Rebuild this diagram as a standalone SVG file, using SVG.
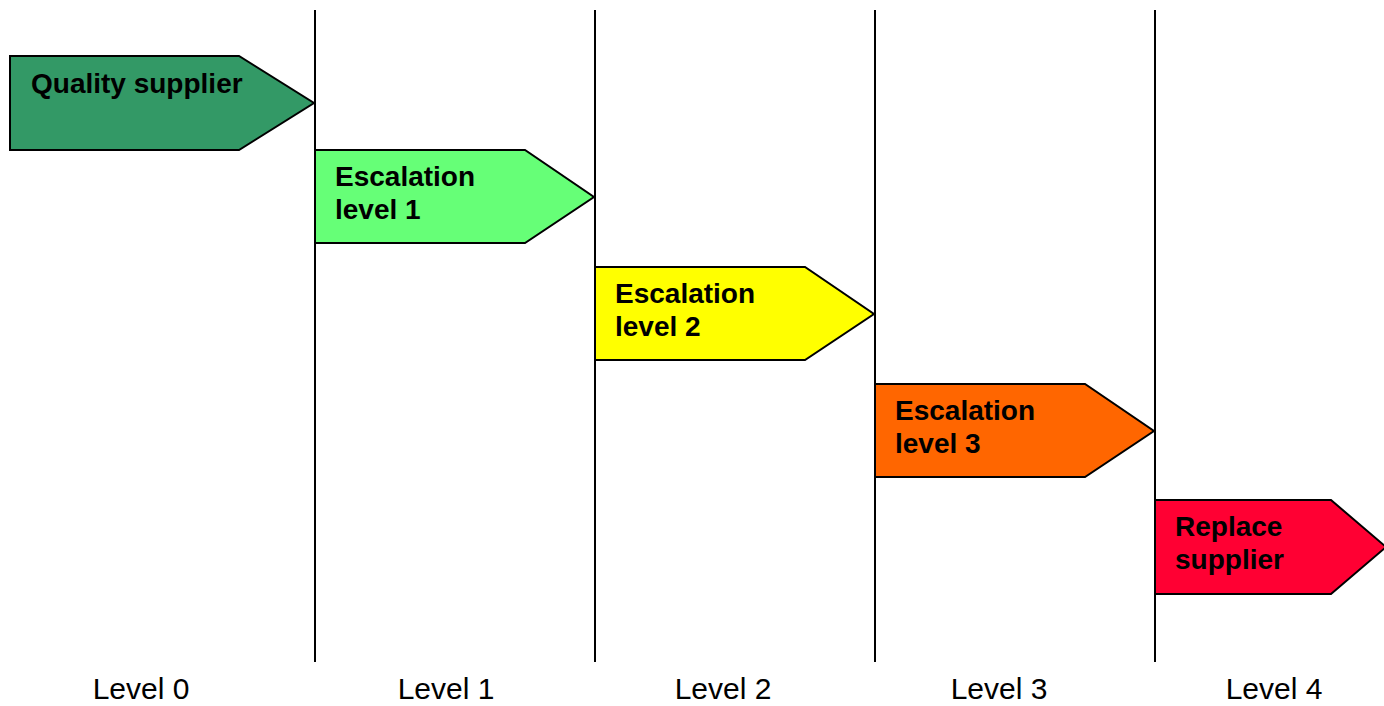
<svg xmlns="http://www.w3.org/2000/svg" width="1384" height="706" viewBox="0 0 1384 706">
<style>
.sh{stroke:#000;stroke-width:2;stroke-linejoin:miter}
.t{font-family:"Liberation Sans",Arial,sans-serif;font-weight:bold;font-size:28px;fill:#000}
.lv{font-family:"Liberation Sans",Arial,sans-serif;font-size:30px;fill:#000;text-anchor:middle}
.ln{stroke:#000;stroke-width:2}
</style>
<rect width="1384" height="706" fill="#fff"/>
<g id="connectors">
<line class="ln" x1="315" y1="10" x2="315" y2="662"/>
<line class="ln" x1="595" y1="10" x2="595" y2="662"/>
<line class="ln" x1="875" y1="10" x2="875" y2="662"/>
<line class="ln" x1="1155" y1="10" x2="1155" y2="662"/>
</g>
<g id="n0">
<polygon class="sh" fill="#339966" points="10,56 239,56 314,103 239,150 10,150"/>
<text class="t" x="31" y="93">Quality supplier</text>
</g>
<g id="n1">
<polygon class="sh" fill="#66FF77" points="315,150 525,150 594,197 525,243 315,243"/>
<text class="t" x="335" y="186">Escalation</text>
<text class="t" x="335" y="219">level 1</text>
</g>
<g id="n2">
<polygon class="sh" fill="#FFFF00" points="595,267 805,267 874,314 805,360 595,360"/>
<text class="t" x="615" y="303">Escalation</text>
<text class="t" x="615" y="336">level 2</text>
</g>
<g id="n3">
<polygon class="sh" fill="#FF6600" points="875,384 1085,384 1154,431 1085,477 875,477"/>
<text class="t" x="895" y="420">Escalation</text>
<text class="t" x="895" y="453">level 3</text>
</g>
<g id="n4">
<polygon class="sh" fill="#FF0033" points="1155,500 1331,500 1386,547 1331,594 1155,594"/>
<text class="t" x="1175" y="536">Replace</text>
<text class="t" x="1175" y="569">supplier</text>
</g>
<g id="labels">
<text class="lv" x="141" y="699">Level 0</text>
<text class="lv" x="446" y="699">Level 1</text>
<text class="lv" x="723" y="699">Level 2</text>
<text class="lv" x="999" y="699">Level 3</text>
<text class="lv" x="1274" y="699">Level 4</text>
</g>
</svg>
